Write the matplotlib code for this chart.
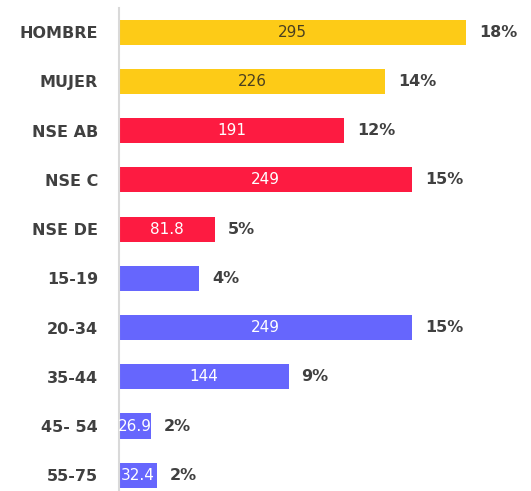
import matplotlib.pyplot as plt

categories = ['HOMBRE', 'MUJER', 'NSE AB', 'NSE C', 'NSE DE',
              '15-19', '20-34', '35-44', '45- 54', '55-75']
values = [295, 226, 191, 249, 81.8, 68, 249, 144, 26.9, 32.4]
value_labels = ['295', '226', '191', '249', '81.8', '', '249', '144', '26.9', '32.4']
pct_labels = ['18%', '14%', '12%', '15%', '5%', '4%', '15%', '9%', '2%', '2%']
groups = ['sexo', 'sexo', 'nse', 'nse', 'nse', 'edad', 'edad', 'edad', 'edad', 'edad']

colors = {'sexo': '#FDCB17', 'nse': '#FD1B41', 'edad': '#6666FD'}
text_colors = {'sexo': '#4a4020', 'nse': 'white', 'edad': 'white'}

fig = plt.figure(figsize=(5.31, 4.91), dpi=100)
ax = fig.add_axes([119 / 531, 0, 412 / 531, 483 / 491])

y = list(range(len(categories)))
bars = ax.barh(y, values, height=0.51, color=[colors[g] for g in groups])

for bar, v, vl, pl, g in zip(bars, values, value_labels, pct_labels, groups):
    yc = bar.get_y() + bar.get_height() / 2
    if vl:
        t = ax.text(v / 2, yc, vl, ha='center', va='center', fontsize=11,
                    color=text_colors[g])
        t.set_clip_path(bar)
    ax.text(v + 11, yc, pl, ha='left', va='center', fontsize=11.5,
            fontweight='bold', color='#404040')

ax.set_xlim(0, 350)
ax.set_ylim(9.32, -0.49)
ax.set_yticks(y)
ax.set_yticklabels(categories, fontsize=11.5, fontweight='bold', color='#404040')
ax.tick_params(axis='y', length=0, pad=15)
ax.set_xticks([])
for side in ['top', 'right', 'bottom']:
    ax.spines[side].set_visible(False)
ax.spines['left'].set_color('#d9d9d9')
ax.spines['left'].set_linewidth(1.5)

fig.savefig('out.png', dpi=100)
